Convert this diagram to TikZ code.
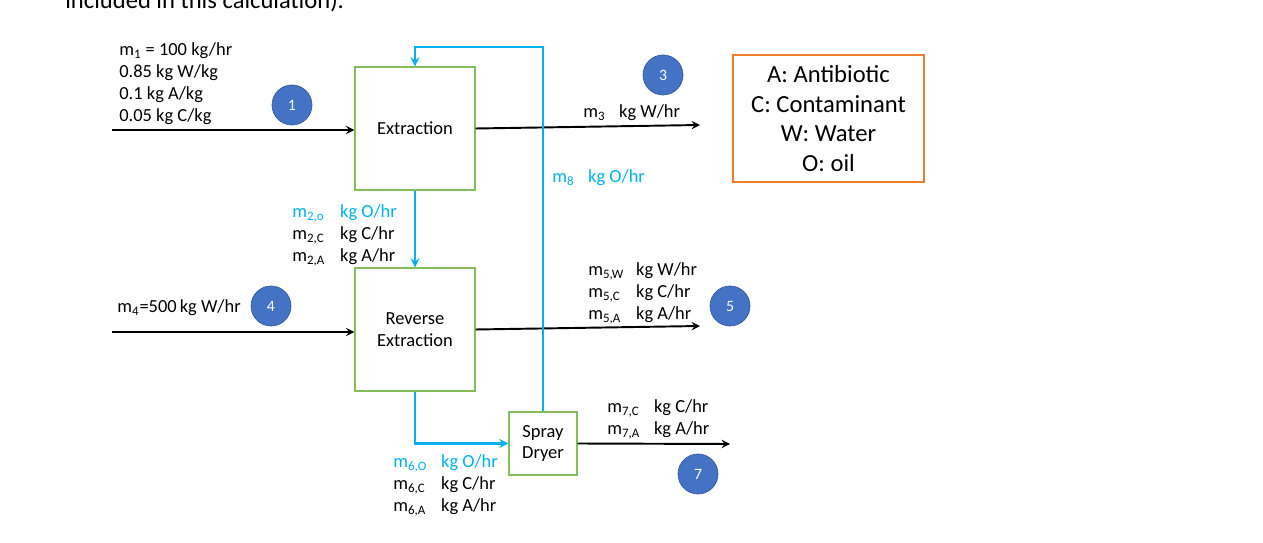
\documentclass[tikz,border=0pt]{standalone}
\usepackage{fontspec}
\setmainfont{Carlito}
\usepackage{tikz}
\usepackage{xcolor}
\usetikzlibrary{shapes.geometric, arrows, positioning, calc}
\definecolor{flowblue}{RGB}{0,176,240}
\definecolor{unitgreen}{RGB}{130,190,90}
\definecolor{keyorange}{RGB}{237,125,49}
\definecolor{tagblue}{RGB}{68,114,196}

\begin{document}
\begin{tikzpicture}[
    x=0.02cm, y=-0.02cm,
    unit/.style={draw=unitgreen, line width=0.7pt, minimum width=2.4cm, minimum height=2.46cm, align=center, font=\fontsize{10.5}{12.5}\selectfont},
    tag/.style={circle, fill=tagblue, draw=tagblue!80!black, line width=0.4pt, minimum size=0.8cm, inner sep=0pt, text=white, font=\fontsize{9}{10}\selectfont},
    lbl/.style={inner sep=0pt, anchor=north west, font=\fontsize{10.5}{12.5}\selectfont},
    flow/.style={->, line width=1.1pt, >=stealth},
    recycle/.style={->, line width=1.3pt, >=stealth, draw=flowblue}
]
    \useasboundingbox (0,0) rectangle (1263,543);

    \node[anchor=base west, inner sep=0pt, font=\fontsize{14}{17}\selectfont] (note) at (65,9) {included in this calculation).};

    % units
    \node[unit] (ext) at (415,128.5) {Extraction};
    \node[unit] (rev) at (415,329.5) {Reverse\\Extraction};
    \node[unit, minimum width=1.36cm, minimum height=1.26cm] (dryer) at (543,443.5) {Spray\\Dryer};
    \node[draw=keyorange, line width=0.7pt, minimum width=3.82cm, minimum height=2.54cm, align=center, font=\fontsize{14}{17}\selectfont] (legend) at (828.5,118.5) {A: Antibiotic\\C: Contaminant\\W: Water\\O: oil};

    % stream numbers
    \node[tag] (s1) at (292,105) {1};
    \node[tag] (s3) at (663,75) {3};
    \node[tag] (s4) at (271,306) {4};
    \node[tag] (s5) at (730,306) {5};
    \node[tag] (s7) at (698,474) {7};

    % stream labels
    \node[lbl] (lab1) at (119,39.6) {\begin{tabular}{@{}l@{}}m\textsubscript{1} = 100 kg/hr\\0.85 kg W/kg\\0.1 kg A/kg\\0.05 kg C/kg\end{tabular}};
    \node[lbl] (lab2) at (292,201.6) {\begin{tabular}{@{}p{27.2pt}@{}l@{}}\textcolor{flowblue}{m\textsubscript{2,o}} & \textcolor{flowblue}{kg O/hr}\\m\textsubscript{2,C} & kg C/hr\\m\textsubscript{2,A} & kg A/hr\end{tabular}};
    \node[lbl] (lab3) at (583,101.6) {\begin{tabular}{@{}p{20.4pt}@{}l@{}}m\textsubscript{3} & kg W/hr\end{tabular}};
    \node[lbl, text=flowblue] (lab8) at (552,166.6) {\begin{tabular}{@{}p{20.4pt}@{}l@{}}m\textsubscript{8} & kg O/hr\end{tabular}};
    \node[lbl, anchor=base west] (lab4) at (117,313) {m\textsubscript{4}=500\,kg W/hr};
    \node[lbl] (lab5) at (588,259.6) {\begin{tabular}{@{}p{27.2pt}@{}l@{}}m\textsubscript{5,W} & kg W/hr\\m\textsubscript{5,C} & kg C/hr\\m\textsubscript{5,A} & kg A/hr\end{tabular}};
    \node[lbl] (lab6) at (393,451.6) {\begin{tabular}{@{}p{27.2pt}@{}l@{}}\textcolor{flowblue}{m\textsubscript{6,O}} & \textcolor{flowblue}{kg O/hr}\\m\textsubscript{6,C} & kg C/hr\\m\textsubscript{6,A} & kg A/hr\end{tabular}};
    \node[lbl] (lab7) at (607,396.6) {\begin{tabular}{@{}p{26.6pt}@{}l@{}}m\textsubscript{7,C} & kg C/hr\\m\textsubscript{7,A} & kg A/hr\end{tabular}};

    % free ends
    \coordinate (in1) at (112,130);
    \coordinate (out3) at (700,125);
    \coordinate (in4) at (112,332);
    \coordinate (out5) at (700,326);
    \coordinate (out7) at (730,444);
    \coordinate (top) at (0,47);

    % streams
    \draw[flow] (in1) -- (in1 -| ext.west);
    \draw[flow] (ext.east) -- (out3);
    \draw[recycle] (ext.south) -- (rev.north);
    \draw[flow] (in4) -- (in4 -| rev.west);
    \draw[flow] (rev.east) -- (out5);
    \draw[recycle] (rev.south) |- (dryer.west);
    \draw[flow] (dryer.east) -- (out7);
    \draw[recycle] (dryer.north) -- (dryer.north |- top) -| (ext.north);
\end{tikzpicture}
\end{document}
